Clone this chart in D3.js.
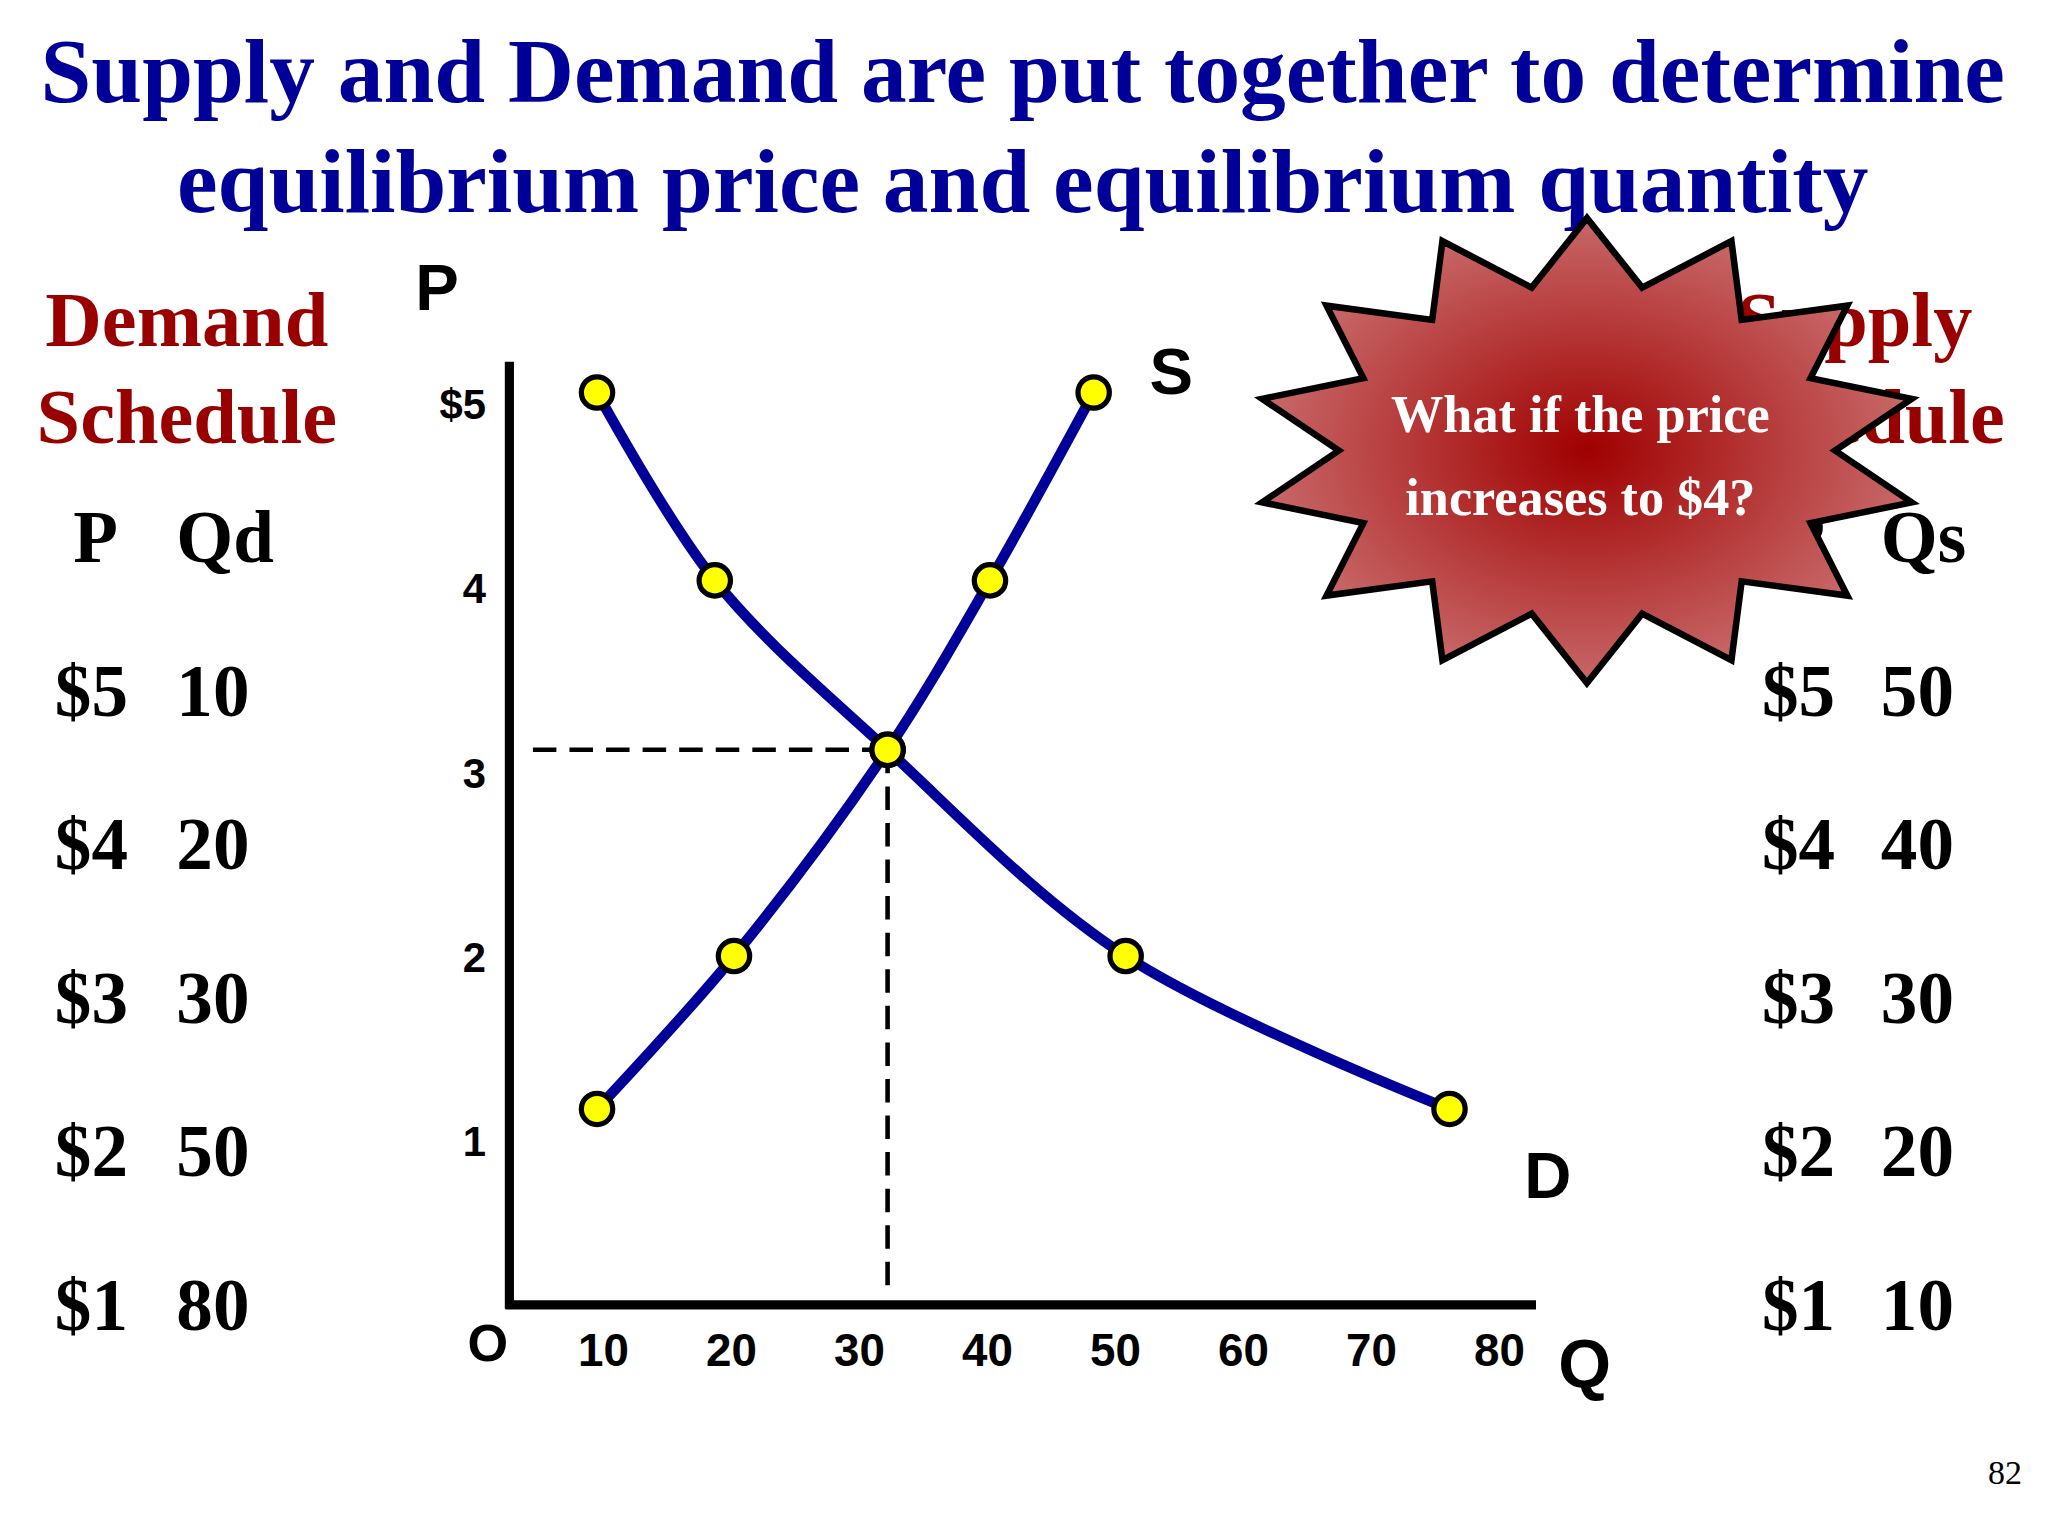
<!DOCTYPE html><html><head><meta charset="utf-8">
<script src="https://cdn.jsdelivr.net/npm/d3@7"></script>
<style>body{margin:0;background:#fff}</style></head><body>
<svg id="c" width="2048" height="1536" viewBox="0 0 1568 1176"></svg>
<script>
const titleLines=["Supply and Demand are put together to determine","equilibrium price and equilibrium quantity"];
const xTicks=[10,20,30,40,50,60,70,80];
const yTicks=[1,2,3,4,5];
const demandQ=[9.5,18.7,32.2,50.8,76.1];
const demandP=[5.06,4.04,3.12,2.0,1.17];
const supplyQ=[9.5,20.2,32.2,40.2,48.3];
const supplyP=[1.17,2.0,3.12,4.04,5.06];
const eqQ=32.2, eqP=3.12;
const demandSchedule=[["$5","10"],["$4","20"],["$3","30"],["$2","50"],["$1","80"]];
const supplySchedule=[["$5","50"],["$4","40"],["$3","30"],["$2","20"],["$1","10"]];

const svg=d3.select("#c");
const x=d3.scaleLinear().domain([0,80]).range([364,1148]);
const y=d3.scaleLinear().domain([0,5]).range([1014,309]);
const serif="'Liberation Serif','Times New Roman',serif", sans="'Liberation Sans',Arial,sans-serif";

titleLines.forEach((t,i)=>svg.append("text").attr("x",783).attr("y",78+i*84).attr("text-anchor","middle")
 .attr("font-family",serif).attr("font-weight","bold").attr("font-size",70).attr("fill","#000099").text(t));

function schedule(cx,px,vx,title,head,rows){
 title.forEach((t,i)=>svg.append("text").attr("x",cx).attr("y",265+i*74).attr("text-anchor","middle")
  .attr("font-family",serif).attr("font-weight","bold").attr("font-size",60).attr("fill","#990000").text(t));
 svg.append("text").attr("x",px+14).attr("y",430).attr("font-family",serif).attr("font-weight","bold").attr("font-size",56).text(head[0]);
 svg.append("text").attr("x",vx).attr("y",430).attr("font-family",serif).attr("font-weight","bold").attr("font-size",56).text(head[1]);
 rows.forEach((r,i)=>{
  svg.append("text").attr("x",px).attr("y",548+i*117.5).attr("font-family",serif).attr("font-weight","bold").attr("font-size",56).text(r[0]);
  svg.append("text").attr("x",vx).attr("y",548+i*117.5).attr("font-family",serif).attr("font-weight","bold").attr("font-size",56).text(r[1]);
 });
}
schedule(143,42,135,["Demand","Schedule"],["P","Qd"],demandSchedule);
schedule(1420,1349,1440,["Supply","Schedule"],["P","Qs"],supplySchedule);

svg.append("line").attr("x1",390).attr("x2",390).attr("y1",277).attr("y2",1002).attr("stroke","#000").attr("stroke-width",7);
svg.append("line").attr("x1",387).attr("x2",1176).attr("y1",999).attr("y2",999).attr("stroke","#000").attr("stroke-width",7);
xTicks.forEach(v=>svg.append("text").attr("x",x(v)).attr("y",1046).attr("text-anchor","middle").attr("font-family",sans).attr("font-weight","bold").attr("font-size",35).text(v));
yTicks.forEach(v=>svg.append("text").attr("x",372).attr("y",y(v)+12).attr("text-anchor","end").attr("font-family",sans).attr("font-weight","bold").attr("font-size",32).text(v===5?"$5":v));
[["P",318,237,50],["S",880,302,50],["D",1167,917,50],["Q",1193,1062,52],["O",358,1042,40]].forEach(d=>
 svg.append("text").attr("x",d[1]).attr("y",d[2]).attr("font-family",sans).attr("font-weight","bold").attr("font-size",d[3]).text(d[0]));
svg.append("text").attr("x",1522).attr("y",1136).attr("font-family",serif).attr("font-size",26).text("82");

svg.append("line").attr("x1",408).attr("x2",x(eqQ)).attr("y1",y(eqP)).attr("y2",y(eqP)).attr("stroke","#000").attr("stroke-width",3.5).attr("stroke-dasharray","18,10");
svg.append("line").attr("x1",x(eqQ)).attr("x2",x(eqQ)).attr("y1",y(eqP)).attr("y2",985).attr("stroke","#000").attr("stroke-width",3.5).attr("stroke-dasharray","18,10");

const line=d3.line().x(d=>x(d[0])).y(d=>y(d[1])).curve(d3.curveCatmullRom);
const dem=demandQ.map((q,i)=>[q,demandP[i]]), sup=supplyQ.map((q,i)=>[q,supplyP[i]]);
[dem,sup].forEach(s=>svg.append("path").attr("d",line(s)).attr("fill","none").attr("stroke","#000099").attr("stroke-width",8));
dem.concat(sup).forEach(d=>svg.append("circle").attr("cx",x(d[0])).attr("cy",y(d[1])).attr("r",12).attr("fill","#ffff00").attr("stroke","#000").attr("stroke-width",4));

const defs=svg.append("defs");
const g=defs.append("radialGradient").attr("id","rg");
g.append("stop").attr("offset","0").attr("stop-color","#a00000");
g.append("stop").attr("offset","1").attr("stop-color","#c86868");
const cx=1215,cy=345,n=14,pts=[];
for(let i=0;i<2*n;i++){const a=-Math.PI/2+i*Math.PI/n;const o=i%2===0;
 pts.push([cx+Math.cos(a)*(o?255:190),cy+Math.sin(a)*(o?178:128)]);}
svg.append("polygon").attr("points",pts.map(p=>p.join(",")).join(" ")).attr("fill","url(#rg)").attr("stroke","#000").attr("stroke-width",5).attr("stroke-linejoin","miter");
["What if the price","increases to $4?"].forEach((t,i)=>svg.append("text").attr("x",1210).attr("y",331+i*63).attr("text-anchor","middle")
 .attr("font-family",serif).attr("font-weight","bold").attr("font-size",40).attr("fill","#fff").text(t));
</script></body></html>
